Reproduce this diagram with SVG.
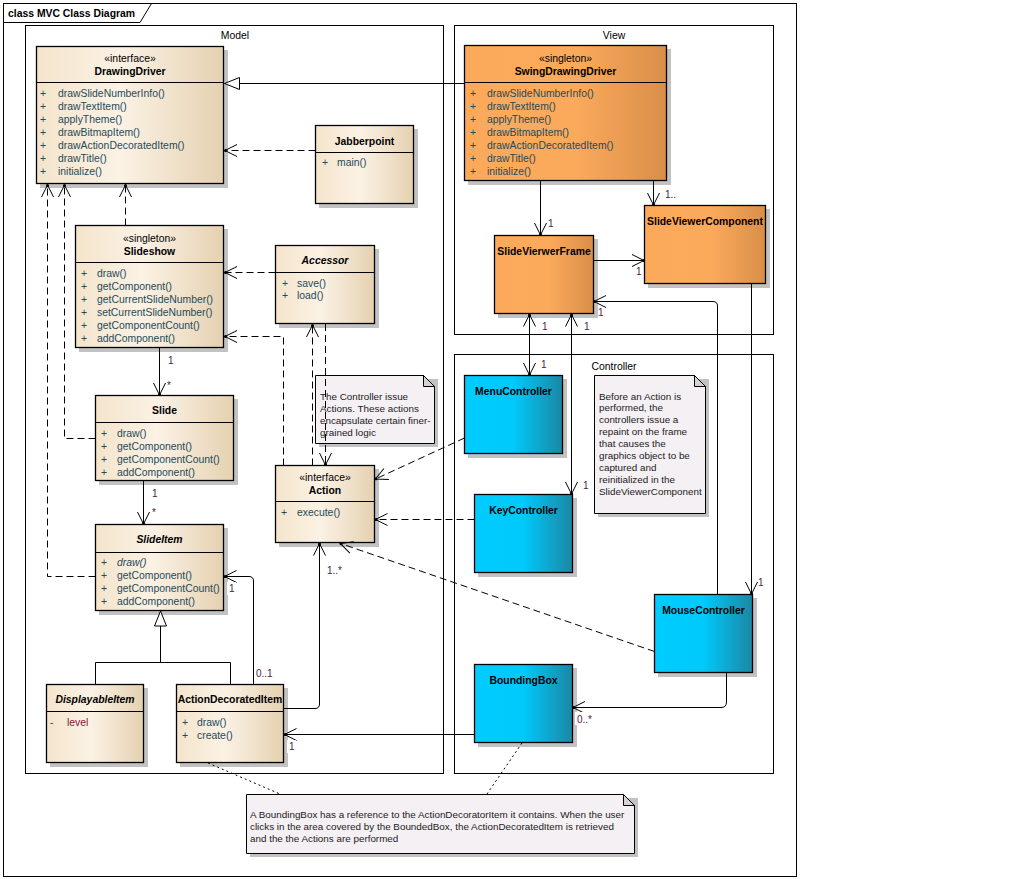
<svg xmlns="http://www.w3.org/2000/svg" width="1030" height="879" viewBox="0 0 1030 879">
  <defs>
    <linearGradient id="tan" x1="0" y1="0" x2="1" y2="0">
      <stop offset="0" stop-color="#f4e4cb"/>
      <stop offset="0.45" stop-color="#fbf2e5"/>
      <stop offset="1" stop-color="#e5d1b1"/>
    </linearGradient>
    <linearGradient id="orange" x1="0" y1="0" x2="1" y2="0">
      <stop offset="0" stop-color="#fca95a"/>
      <stop offset="0.55" stop-color="#fbaa5c"/>
      <stop offset="1" stop-color="#d98e48"/>
    </linearGradient>
    <linearGradient id="cyan" x1="0" y1="0" x2="1" y2="0">
      <stop offset="0" stop-color="#00ccff"/>
      <stop offset="0.5" stop-color="#00c9fb"/>
      <stop offset="1" stop-color="#1c87a4"/>
    </linearGradient>
    <marker id="open" markerUnits="userSpaceOnUse" markerWidth="16" markerHeight="14" viewBox="-14 -7 16 14" refX="0" refY="0" orient="auto">
      <path d="M-12,-6 L0,0 L-12,6" fill="none" stroke="#000" stroke-width="1"/>
      <circle cx="-0.5" cy="0" r="1.5" fill="#000"/>
    </marker>
    <marker id="openStart" markerUnits="userSpaceOnUse" markerWidth="16" markerHeight="14" viewBox="-14 -7 16 14" refX="0" refY="0" orient="auto-start-reverse">
      <path d="M-12,-6 L0,0 L-12,6" fill="none" stroke="#000" stroke-width="1"/>
      <circle cx="-0.5" cy="0" r="1.5" fill="#000"/>
    </marker>
    <marker id="tri" markerUnits="userSpaceOnUse" markerWidth="18" markerHeight="14" viewBox="-16 -7 18 14" refX="0" refY="0" orient="auto">
      <path d="M0,0 L-15,-6 L-15,6 Z" fill="#fff" stroke="#000" stroke-width="1"/>
    </marker>
  </defs>
  <style>
    .t{font-family:"Liberation Sans",Arial,sans-serif;font-size:10.4px;fill:#000}
    .b{font-weight:bold}
    .i{font-style:italic}
    .c{text-anchor:middle}
    .m{fill:#1f4a5a}
    .lv{fill:#8a0f3a}
    .mult{font-family:"Liberation Sans",Arial,sans-serif;font-size:10px;fill:#4e1a3e}
    .nt{font-family:"Liberation Sans",Arial,sans-serif;font-size:9.85px;fill:#1a1a1a}
    .box{stroke:#000;stroke-width:1.3}
    .sh{fill:#c2c2c2}
    .pkg{fill:#fff;stroke:#000;stroke-width:1}
    .ln{fill:none;stroke:#000;stroke-width:1}
    .dash{stroke-dasharray:7,4}
    .dot{stroke-dasharray:2,3}
    .note{fill:#f5f0f4;stroke:#000;stroke-width:1}
    .fold{fill:#d4d2d4;stroke:#000;stroke-width:1}
  </style>

  <!-- diagram frame -->
  <rect x="3.5" y="3.5" width="793" height="873" fill="#fff" stroke="#000" stroke-width="1"/>
  <path d="M3.5,22.5 H140 L151.5,3.5" fill="none" stroke="#000" stroke-width="1"/>
  <text class="t b" x="8" y="16.5">class MVC Class Diagram</text>

  <!-- packages -->
  <g id="pkg-model">
    <rect class="pkg" x="25.5" y="25.5" width="418" height="748"/>
    <text class="t c" x="235" y="39">Model</text>
  </g>
  <g id="pkg-view">
    <rect class="pkg" x="454.5" y="25.5" width="319" height="309"/>
    <text class="t c" x="614" y="39">View</text>
  </g>
  <g id="pkg-controller">
    <rect class="pkg" x="454.5" y="354.5" width="319" height="419"/>
    <text class="t c" x="614" y="370">Controller</text>
  </g>

  <!-- notes -->
  <g id="note-actions">
    <rect class="sh" x="319" y="379" width="119" height="68"/>
    <path class="note" d="M315.5,375.5 H423.5 L434.5,386.5 V443.5 H315.5 Z"/>
    <path class="fold" d="M423.5,375.5 V386.5 H434.5 Z"/>
    <text class="nt" x="320" y="399.5">The Controller issue</text>
    <text class="nt" x="320" y="411.5">Actions. These actions</text>
    <text class="nt" x="320" y="423.5">encapsulate certain finer-</text>
    <text class="nt" x="320" y="435.5">grained logic</text>
  </g>
  <g id="note-repaint">
    <rect class="sh" x="598" y="379" width="111" height="138"/>
    <path class="note" d="M594.5,375.5 H694.5 L705.5,386.5 V513.5 H594.5 Z"/>
    <path class="fold" d="M694.5,375.5 V386.5 H705.5 Z"/>
    <text class="nt" x="599" y="399.5">Before an Action is</text>
    <text class="nt" x="599" y="411.4">performed, the</text>
    <text class="nt" x="599" y="423.3">controllers issue a</text>
    <text class="nt" x="599" y="435.2">repaint on the frame</text>
    <text class="nt" x="599" y="447.1">that causes the</text>
    <text class="nt" x="599" y="459">graphics object to be</text>
    <text class="nt" x="599" y="470.9">captured and</text>
    <text class="nt" x="599" y="482.8">reinitialized in the</text>
    <text class="nt" x="599" y="494.7">SlideViewerComponent</text>
  </g>
  <g id="note-boundingbox">
    <rect class="sh" x="250" y="798" width="388" height="59"/>
    <path class="note" d="M246.5,794.5 H623.5 L634.5,805.5 V853.5 H246.5 Z"/>
    <path class="fold" d="M623.5,794.5 V805.5 H634.5 Z"/>
    <text class="nt" x="250" y="818">A BoundingBox has a reference to the ActionDecoratorItem it contains. When the user</text>
    <text class="nt" x="250" y="830">clicks in the area covered by the BoundedBox, the ActionDecoratedItem is retrieved</text>
    <text class="nt" x="250" y="842">and the the Actions are performed</text>
  </g>

  <!-- model classes -->
  <g id="DrawingDriver">
    <rect class="sh" x="40" y="50" width="188" height="138"/>
    <rect class="box" x="36.5" y="46.5" width="187" height="137" fill="url(#tan)"/>
    <line class="ln" x1="36.5" y1="82.5" x2="223.5" y2="82.5"/>
    <text class="t c" x="130" y="62">«interface»</text>
    <text class="t c b" x="130" y="75">DrawingDriver</text>
    <g class="t m">
      <text x="40" y="96.5">+</text><text x="58" y="96.5">drawSlideNumberInfo()</text>
      <text x="40" y="109.5">+</text><text x="58" y="109.5">drawTextItem()</text>
      <text x="40" y="122.5">+</text><text x="58" y="122.5">applyTheme()</text>
      <text x="40" y="135.5">+</text><text x="58" y="135.5">drawBitmapItem()</text>
      <text x="40" y="148.5">+</text><text x="58" y="148.5">drawActionDecoratedItem()</text>
      <text x="40" y="161.5">+</text><text x="58" y="161.5">drawTitle()</text>
      <text x="40" y="174.5">+</text><text x="58" y="174.5">initialize()</text>
    </g>
  </g>

  <g id="Jabberpoint">
    <rect class="sh" x="319" y="129" width="99" height="79"/>
    <rect class="box" x="315.5" y="125.5" width="98" height="78" fill="url(#tan)"/>
    <line class="ln" x1="315.5" y1="152.5" x2="413.5" y2="152.5"/>
    <text class="t c b" x="364.5" y="144.5">Jabberpoint</text>
    <g class="t m">
      <text x="322" y="166">+</text><text x="337" y="166">main()</text>
    </g>
  </g>

  <g id="Slideshow">
    <rect class="sh" x="79" y="229" width="149" height="123"/>
    <rect class="box" x="75.5" y="225.5" width="148" height="122" fill="url(#tan)"/>
    <line class="ln" x1="75.5" y1="262.5" x2="223.5" y2="262.5"/>
    <text class="t c" x="149.5" y="242">«singleton»</text>
    <text class="t c b" x="149.5" y="254.5">Slideshow</text>
    <g class="t m">
      <text x="81" y="276.5">+</text><text x="97" y="276.5">draw()</text>
      <text x="81" y="289.5">+</text><text x="97" y="289.5">getComponent()</text>
      <text x="81" y="302.5">+</text><text x="97" y="302.5">getCurrentSlideNumber()</text>
      <text x="81" y="315.5">+</text><text x="97" y="315.5">setCurrentSlideNumber()</text>
      <text x="81" y="328.5">+</text><text x="97" y="328.5">getComponentCount()</text>
      <text x="81" y="341.5">+</text><text x="97" y="341.5">addComponent()</text>
    </g>
  </g>

  <g id="Accessor">
    <rect class="sh" x="279" y="249" width="100" height="79"/>
    <rect class="box" x="275.5" y="245.5" width="99" height="78" fill="url(#tan)"/>
    <line class="ln" x1="275.5" y1="272.5" x2="374.5" y2="272.5"/>
    <text class="t c b i" x="325" y="264">Accessor</text>
    <g class="t m">
      <text x="282" y="286.5">+</text><text x="297" y="286.5">save()</text>
      <text x="282" y="299">+</text><text x="297" y="299">load()</text>
    </g>
  </g>

  <g id="Slide">
    <rect class="sh" x="99" y="399" width="139" height="86"/>
    <rect class="box" x="95.5" y="395.5" width="138" height="85" fill="url(#tan)"/>
    <line class="ln" x1="95.5" y1="422.5" x2="233.5" y2="422.5"/>
    <text class="t c b" x="164.5" y="414">Slide</text>
    <g class="t m">
      <text x="101" y="436.5">+</text><text x="117" y="436.5">draw()</text>
      <text x="101" y="449.5">+</text><text x="117" y="449.5">getComponent()</text>
      <text x="101" y="462.5">+</text><text x="117" y="462.5">getComponentCount()</text>
      <text x="101" y="475.5">+</text><text x="117" y="475.5">addComponent()</text>
    </g>
  </g>

  <g id="Action">
    <rect class="sh" x="279" y="469" width="100" height="78"/>
    <rect class="box" x="275.5" y="465.5" width="99" height="77" fill="url(#tan)"/>
    <line class="ln" x1="275.5" y1="501.5" x2="374.5" y2="501.5"/>
    <text class="t c" x="325" y="480.5">«interface»</text>
    <text class="t c b" x="325" y="493.5">Action</text>
    <g class="t m">
      <text x="281" y="515.5">+</text><text x="297" y="515.5">execute()</text>
    </g>
  </g>

  <g id="SlideItem">
    <rect class="sh" x="99" y="528" width="129" height="87"/>
    <rect class="box" x="95.5" y="524.5" width="128" height="86" fill="url(#tan)"/>
    <line class="ln" x1="95.5" y1="552.5" x2="223.5" y2="552.5"/>
    <text class="t c b i" x="159.5" y="542.5">SlideItem</text>
    <g class="t m">
      <text x="101" y="565.5">+</text><text class="i" x="117" y="565.5">draw()</text>
      <text x="101" y="578.5">+</text><text x="117" y="578.5">getComponent()</text>
      <text x="101" y="591.5">+</text><text x="117" y="591.5">getComponentCount()</text>
      <text x="101" y="604.5">+</text><text x="117" y="604.5">addComponent()</text>
    </g>
  </g>

  <g id="DisplayableItem">
    <rect class="sh" x="50" y="688" width="98" height="79"/>
    <rect class="box" x="46.5" y="684.5" width="97" height="78" fill="url(#tan)"/>
    <line class="ln" x1="46.5" y1="711.5" x2="143.5" y2="711.5"/>
    <text class="t c b i" x="95" y="703">DisplayableItem</text>
    <g class="t lv">
      <text x="50" y="725.5">-</text><text x="67" y="725.5">level</text>
    </g>
  </g>

  <g id="ActionDecoratedItem">
    <rect class="sh" x="180" y="688" width="108" height="79"/>
    <rect class="box" x="176.5" y="684.5" width="107" height="78" fill="url(#tan)"/>
    <line class="ln" x1="176.5" y1="711.5" x2="283.5" y2="711.5"/>
    <text class="t c b" x="230" y="703">ActionDecoratedItem</text>
    <g class="t m">
      <text x="182" y="725.5">+</text><text x="197" y="725.5">draw()</text>
      <text x="182" y="738.5">+</text><text x="197" y="738.5">create()</text>
    </g>
  </g>

  <!-- view classes -->
  <g id="SwingDrawingDriver">
    <rect class="sh" x="468" y="49" width="203" height="136"/>
    <rect class="box" x="464.5" y="45.5" width="202" height="135" fill="url(#orange)"/>
    <line class="ln" x1="464.5" y1="82.5" x2="666.5" y2="82.5"/>
    <text class="t c" x="565.5" y="62">«singleton»</text>
    <text class="t c b" x="565.5" y="75">SwingDrawingDriver</text>
    <g class="t m">
      <text x="470" y="96.5">+</text><text x="487" y="96.5">drawSlideNumberInfo()</text>
      <text x="470" y="109.5">+</text><text x="487" y="109.5">drawTextItem()</text>
      <text x="470" y="122.5">+</text><text x="487" y="122.5">applyTheme()</text>
      <text x="470" y="135.5">+</text><text x="487" y="135.5">drawBitmapItem()</text>
      <text x="470" y="148.5">+</text><text x="487" y="148.5">drawActionDecoratedItem()</text>
      <text x="470" y="161.5">+</text><text x="487" y="161.5">drawTitle()</text>
      <text x="470" y="174.5">+</text><text x="487" y="174.5">initialize()</text>
    </g>
  </g>

  <g id="SlideViewerComponent">
    <rect class="sh" x="648" y="209" width="122" height="79"/>
    <rect class="box" x="644.5" y="205.5" width="121" height="78" fill="url(#orange)"/>
    <text class="t c b" x="705" y="225">SlideViewerComponent</text>
  </g>

  <g id="SlideVierwerFrame">
    <rect class="sh" x="498" y="239" width="100" height="79"/>
    <rect class="box" x="494.5" y="235.5" width="99" height="78" fill="url(#orange)"/>
    <text class="t c b" x="544" y="255">SlideVierwerFrame</text>
  </g>

  <!-- controller classes -->
  <g id="MenuController">
    <rect class="sh" x="468" y="379" width="99" height="79"/>
    <rect class="box" x="464.5" y="375.5" width="98" height="78" fill="url(#cyan)"/>
    <text class="t c b" x="513.5" y="395">MenuController</text>
  </g>

  <g id="KeyController">
    <rect class="sh" x="478" y="498" width="99" height="79"/>
    <rect class="box" x="474.5" y="494.5" width="98" height="78" fill="url(#cyan)"/>
    <text class="t c b" x="523.5" y="514">KeyController</text>
  </g>

  <g id="MouseController">
    <rect class="sh" x="658" y="598" width="99" height="79"/>
    <rect class="box" x="654.5" y="594.5" width="98" height="78" fill="url(#cyan)"/>
    <text class="t c b" x="703.5" y="614">MouseController</text>
  </g>

  <g id="BoundingBox">
    <rect class="sh" x="478" y="668" width="99" height="79"/>
    <rect class="box" x="474.5" y="664.5" width="98" height="78" fill="url(#cyan)"/>
    <text class="t c b" x="523.5" y="684">BoundingBox</text>
  </g>

  <!-- connectors -->
  <g id="connectors">
    <!-- realization / generalization -->
    <path class="ln" d="M464.5,83.5 H224.5" marker-end="url(#tri)"/>
    <path class="ln" d="M95.5,662.5 H230.5 M95.5,662.5 V684.5 M230.5,662.5 V684.5 M160.5,662.5 V611" marker-end="url(#tri)"/>

    <!-- dependencies (dashed) -->
    <path class="ln dash" d="M315.5,150.5 H225" marker-end="url(#open)"/>
    <path class="ln dash" d="M275.5,272.5 H225" marker-end="url(#open)"/>
    <path class="ln dash" d="M283.5,465.5 V336.5 H225" marker-end="url(#open)"/>
    <path class="ln dash" d="M125.5,225.5 V185" marker-end="url(#open)"/>
    <path class="ln dash" d="M95.5,438.5 H64.5 V185" marker-end="url(#open)"/>
    <path class="ln dash" d="M95.5,576.5 H47.5 V185" marker-end="url(#open)"/>
    <path class="ln dash" d="M312.5,465.5 V325" marker-end="url(#open)"/>
    <path class="ln dash" d="M325.5,324 V465" marker-end="url(#open)"/>
    <path class="ln dash" d="M464.5,438 L375.5,479" marker-end="url(#open)"/>
    <path class="ln dash" d="M474.5,519.5 H375.5" marker-end="url(#open)"/>
    <path class="ln dash" d="M654.5,651.5 L340.5,543.5" marker-end="url(#open)"/>

    <!-- associations -->
    <path class="ln" d="M159.5,348 V395" marker-end="url(#open)"/>
    <path class="ln" d="M143.5,481 V524" marker-end="url(#open)"/>
    <path class="ln" d="M253.5,684.5 V581 Q253.5,576.5 249,576.5 H224.5" marker-end="url(#open)"/>
    <path class="ln" d="M283.5,708.5 H315 Q319.5,708.5 319.5,704 V543.5" marker-end="url(#open)"/>
    <path class="ln" d="M474.5,734.5 H284.5" marker-end="url(#open)"/>
    <path class="ln" d="M540.5,181 V235" marker-end="url(#open)"/>
    <path class="ln" d="M653.5,181 V205" marker-end="url(#open)"/>
    <path class="ln" d="M593.5,260.5 H644" marker-end="url(#open)"/>
    <path class="ln" d="M529.5,314.5 V375" marker-start="url(#openStart)" marker-end="url(#open)"/>
    <path class="ln" d="M571.5,314.5 V494" marker-start="url(#openStart)" marker-end="url(#open)"/>
    <path class="ln" d="M751.5,284 V594" marker-end="url(#open)"/>
    <path class="ln" d="M717.5,594.5 V306 Q717.5,301.5 713,301.5 H594" marker-end="url(#open)"/>
    <path class="ln" d="M726.5,673 V702 Q726.5,707.5 721,707.5 H573" marker-end="url(#open)"/>

    <!-- note links -->
    <path class="ln dot" d="M208,763 L280,794"/>
    <path class="ln dot" d="M522,743 L487,794"/>

    <!-- multiplicities -->
    <text class="mult" x="168" y="364">1</text>
    <text class="mult" x="167" y="389">*</text>
    <text class="mult" x="152" y="497">1</text>
    <text class="mult" x="152" y="516">*</text>
    <rect x="227" y="582" width="9" height="13" fill="#fff"/>
    <text class="mult" x="229" y="592">1</text>
    <text class="mult" x="256" y="677">0..1</text>
    <text class="mult" x="327" y="574">1..*</text>
    <rect x="287" y="740" width="9" height="13" fill="#fff"/>
    <text class="mult" x="289" y="750">1</text>
    <rect x="575" y="712" width="20" height="13" fill="#fff"/>
    <text class="mult" x="577" y="723">0..*</text>
    <text class="mult" x="758" y="586">1</text>
    <text class="mult" x="541" y="368">1</text>
    <text class="mult" x="583" y="489">1</text>
    <text class="mult" x="542" y="330">1</text>
    <text class="mult" x="584" y="330">1</text>
    <text class="mult" x="598" y="316">1</text>
    <text class="mult" x="636" y="275">1</text>
    <text class="mult" x="548" y="227">1</text>
    <text class="mult" x="665" y="197.5">1..</text>
  </g>
</svg>
